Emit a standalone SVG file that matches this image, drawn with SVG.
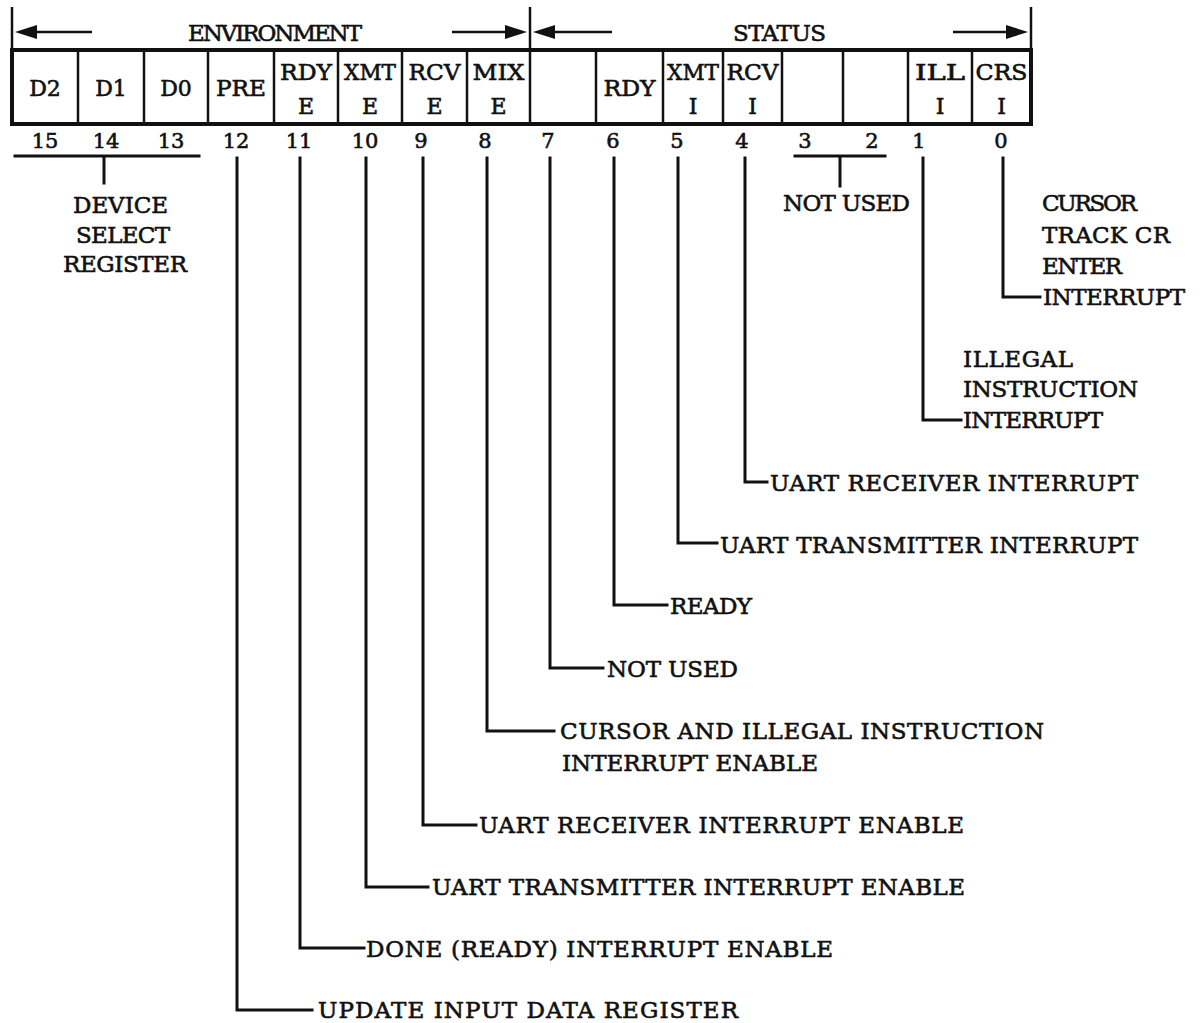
<svg xmlns="http://www.w3.org/2000/svg" width="1203" height="1023" viewBox="0 0 1203 1023">
<style>
.t{font-family:"DejaVu Serif","Liberation Serif",serif;fill:#111;stroke:#111;stroke-width:0.6}
.lbl{font-size:23px}
.cell{font-size:22px;text-anchor:middle}
.num{font-size:21px;text-anchor:middle}
.ln{stroke:#111;stroke-width:3;fill:none;stroke-linejoin:miter;stroke-linecap:square}
.div{stroke:#111;stroke-width:2.5}
.tick{stroke:#111;stroke-width:2.5}
.arr{stroke:#111;stroke-width:2.5}
.head{fill:#111}
</style>
<rect width="1203" height="1023" fill="#fff"/>

<g id="header">
  <line class="tick" x1="12" y1="7" x2="12" y2="50"/>
  <line class="tick" x1="530" y1="7" x2="530" y2="50"/>
  <line class="tick" x1="1031" y1="7" x2="1031" y2="50"/>
  <line class="arr" x1="35" y1="32" x2="92" y2="32"/>
  <polygon class="head" points="15,32 37,25 37,39"/>
  <line class="arr" x1="452" y1="32" x2="507" y2="32"/>
  <polygon class="head" points="527,32 505,25 505,39"/>
  <line class="arr" x1="553" y1="32" x2="612" y2="32"/>
  <polygon class="head" points="533,32 555,25 555,39"/>
  <line class="arr" x1="953" y1="32" x2="1008" y2="32"/>
  <polygon class="head" points="1028,32 1006,25 1006,39"/>
  <text class="t lbl" x="188" y="41" textLength="174" lengthAdjust="spacing">ENVIRONMENT</text>
  <text class="t lbl" x="733" y="41" textLength="93" lengthAdjust="spacing">STATUS</text>
</g>

<g id="register">
  <rect x="12" y="50" width="1019" height="74" fill="none" stroke="#111" stroke-width="4"/>
  <line class="div" x1="78" y1="50" x2="78" y2="124"/>
  <line class="div" x1="144" y1="50" x2="144" y2="124"/>
  <line class="div" x1="208" y1="50" x2="208" y2="124"/>
  <line class="div" x1="274" y1="50" x2="274" y2="124"/>
  <line class="div" x1="338" y1="50" x2="338" y2="124"/>
  <line class="div" x1="402" y1="50" x2="402" y2="124"/>
  <line class="div" x1="467" y1="50" x2="467" y2="124"/>
  <line class="div" x1="530" y1="50" x2="530" y2="124"/>
  <line class="div" x1="596" y1="50" x2="596" y2="124"/>
  <line class="div" x1="663" y1="50" x2="663" y2="124"/>
  <line class="div" x1="723" y1="50" x2="723" y2="124"/>
  <line class="div" x1="782" y1="50" x2="782" y2="124"/>
  <line class="div" x1="843" y1="50" x2="843" y2="124"/>
  <line class="div" x1="908" y1="50" x2="908" y2="124"/>
  <line class="div" x1="972" y1="50" x2="972" y2="124"/>
</g>

<g id="cells">
  <g id="bit15"><text class="t cell" x="45" y="96">D2</text></g>
  <g id="bit14"><text class="t cell" x="111" y="96">D1</text></g>
  <g id="bit13"><text class="t cell" x="176" y="96">D0</text></g>
  <g id="bit12"><text class="t cell" x="241" y="96" textLength="50" lengthAdjust="spacingAndGlyphs">PRE</text></g>
  <g id="bit11"><text class="t cell" x="306" y="80" textLength="52" lengthAdjust="spacingAndGlyphs">RDY</text><text class="t cell" x="306" y="114">E</text></g>
  <g id="bit10"><text class="t cell" x="370" y="80" textLength="52" lengthAdjust="spacingAndGlyphs">XMT</text><text class="t cell" x="370" y="114">E</text></g>
  <g id="bit9"><text class="t cell" x="434.5" y="80" textLength="52" lengthAdjust="spacingAndGlyphs">RCV</text><text class="t cell" x="434.5" y="114">E</text></g>
  <g id="bit8"><text class="t cell" x="498.5" y="80" textLength="52" lengthAdjust="spacingAndGlyphs">MIX</text><text class="t cell" x="498.5" y="114">E</text></g>
  <g id="bit7"></g>
  <g id="bit6"><text class="t cell" x="629.5" y="96" textLength="52" lengthAdjust="spacingAndGlyphs">RDY</text></g>
  <g id="bit5"><text class="t cell" x="693" y="80" textLength="52" lengthAdjust="spacingAndGlyphs">XMT</text><text class="t cell" x="693" y="114">I</text></g>
  <g id="bit4"><text class="t cell" x="752.5" y="80" textLength="52" lengthAdjust="spacingAndGlyphs">RCV</text><text class="t cell" x="752.5" y="114">I</text></g>
  <g id="bit1"><text class="t cell" x="940" y="80" textLength="50" lengthAdjust="spacingAndGlyphs">ILL</text><text class="t cell" x="940" y="114">I</text></g>
  <g id="bit0"><text class="t cell" x="1001.5" y="80" textLength="52" lengthAdjust="spacingAndGlyphs">CRS</text><text class="t cell" x="1001.5" y="114">I</text></g>
</g>

<g id="bitnumbers">
  <text class="t num" x="45" y="148">15</text>
  <text class="t num" x="106" y="148">14</text>
  <text class="t num" x="171" y="148">13</text>
  <text class="t num" x="236" y="148">12</text>
  <text class="t num" x="299" y="148">11</text>
  <text class="t num" x="365" y="148">10</text>
  <text class="t num" x="421" y="148">9</text>
  <text class="t num" x="485" y="148">8</text>
  <text class="t num" x="548" y="148">7</text>
  <text class="t num" x="613" y="148">6</text>
  <text class="t num" x="677" y="148">5</text>
  <text class="t num" x="742" y="148">4</text>
  <text class="t num" x="805" y="148">3</text>
  <text class="t num" x="872" y="148">2</text>
  <text class="t num" x="919" y="148">1</text>
  <text class="t num" x="1001" y="148">0</text>
</g>

<g id="connectors">
  <path class="ln" d="M15 156 H199 M104 156 V183"/>
  <path class="ln" d="M795 156 H885 M840 156 V186"/>
  <path class="ln" d="M237 158 V1010 H312"/>
  <path class="ln" d="M300 158 V948 H364"/>
  <path class="ln" d="M366 158 V887 H428"/>
  <path class="ln" d="M423 158 V825 H476"/>
  <path class="ln" d="M487 158 V731 H554"/>
  <path class="ln" d="M550 158 V668 H603"/>
  <path class="ln" d="M614 158 V605 H667"/>
  <path class="ln" d="M678 158 V543 H717"/>
  <path class="ln" d="M745 158 V482 H767"/>
  <path class="ln" d="M923 158 V420 H961"/>
  <path class="ln" d="M1003 158 V297 H1040"/>
</g>

<g id="label-device-select">
  <text class="t lbl" x="73" y="213" textLength="95" lengthAdjust="spacing">DEVICE</text>
  <text class="t lbl" x="76" y="243" textLength="94" lengthAdjust="spacing">SELECT</text>
  <text class="t lbl" x="63" y="272" textLength="124" lengthAdjust="spacing">REGISTER</text>
</g>
<g id="label-not-used-32">
  <text class="t lbl" x="783" y="211" textLength="127" lengthAdjust="spacing">NOT USED</text>
</g>
<g id="label-bit0">
  <text class="t lbl" x="1042" y="211" textLength="95" lengthAdjust="spacing">CURSOR</text>
  <text class="t lbl" x="1042" y="243" textLength="128" lengthAdjust="spacing">TRACK CR</text>
  <text class="t lbl" x="1042" y="274" textLength="80" lengthAdjust="spacing">ENTER</text>
  <text class="t lbl" x="1043" y="305" textLength="142" lengthAdjust="spacing">INTERRUPT</text>
</g>
<g id="label-bit1">
  <text class="t lbl" x="963" y="367" textLength="110" lengthAdjust="spacing">ILLEGAL</text>
  <text class="t lbl" x="963" y="397" textLength="175" lengthAdjust="spacing">INSTRUCTION</text>
  <text class="t lbl" x="963" y="428" textLength="140" lengthAdjust="spacing">INTERRUPT</text>
</g>
<g id="label-bit4">
  <text class="t lbl" x="770" y="491" textLength="368" lengthAdjust="spacing">UART RECEIVER INTERRUPT</text>
</g>
<g id="label-bit5">
  <text class="t lbl" x="720" y="553" textLength="418" lengthAdjust="spacing">UART TRANSMITTER INTERRUPT</text>
</g>
<g id="label-bit6">
  <text class="t lbl" x="670" y="614" textLength="82" lengthAdjust="spacing">READY</text>
</g>
<g id="label-bit7">
  <text class="t lbl" x="607" y="677" textLength="131" lengthAdjust="spacing">NOT USED</text>
</g>
<g id="label-bit8">
  <text class="t lbl" x="560" y="739" textLength="484" lengthAdjust="spacing">CURSOR AND ILLEGAL INSTRUCTION</text>
  <text class="t lbl" x="562" y="771" textLength="256" lengthAdjust="spacing">INTERRUPT ENABLE</text>
</g>
<g id="label-bit9">
  <text class="t lbl" x="479" y="833" textLength="485" lengthAdjust="spacing">UART RECEIVER INTERRUPT ENABLE</text>
</g>
<g id="label-bit10">
  <text class="t lbl" x="432" y="895" textLength="533" lengthAdjust="spacing">UART TRANSMITTER INTERRUPT ENABLE</text>
</g>
<g id="label-bit11">
  <text class="t lbl" x="366" y="957" textLength="467" lengthAdjust="spacing">DONE (READY) INTERRUPT ENABLE</text>
</g>
<g id="label-bit12">
  <text class="t lbl" x="318" y="1018" textLength="420" lengthAdjust="spacing">UPDATE INPUT DATA REGISTER</text>
</g>
</svg>
